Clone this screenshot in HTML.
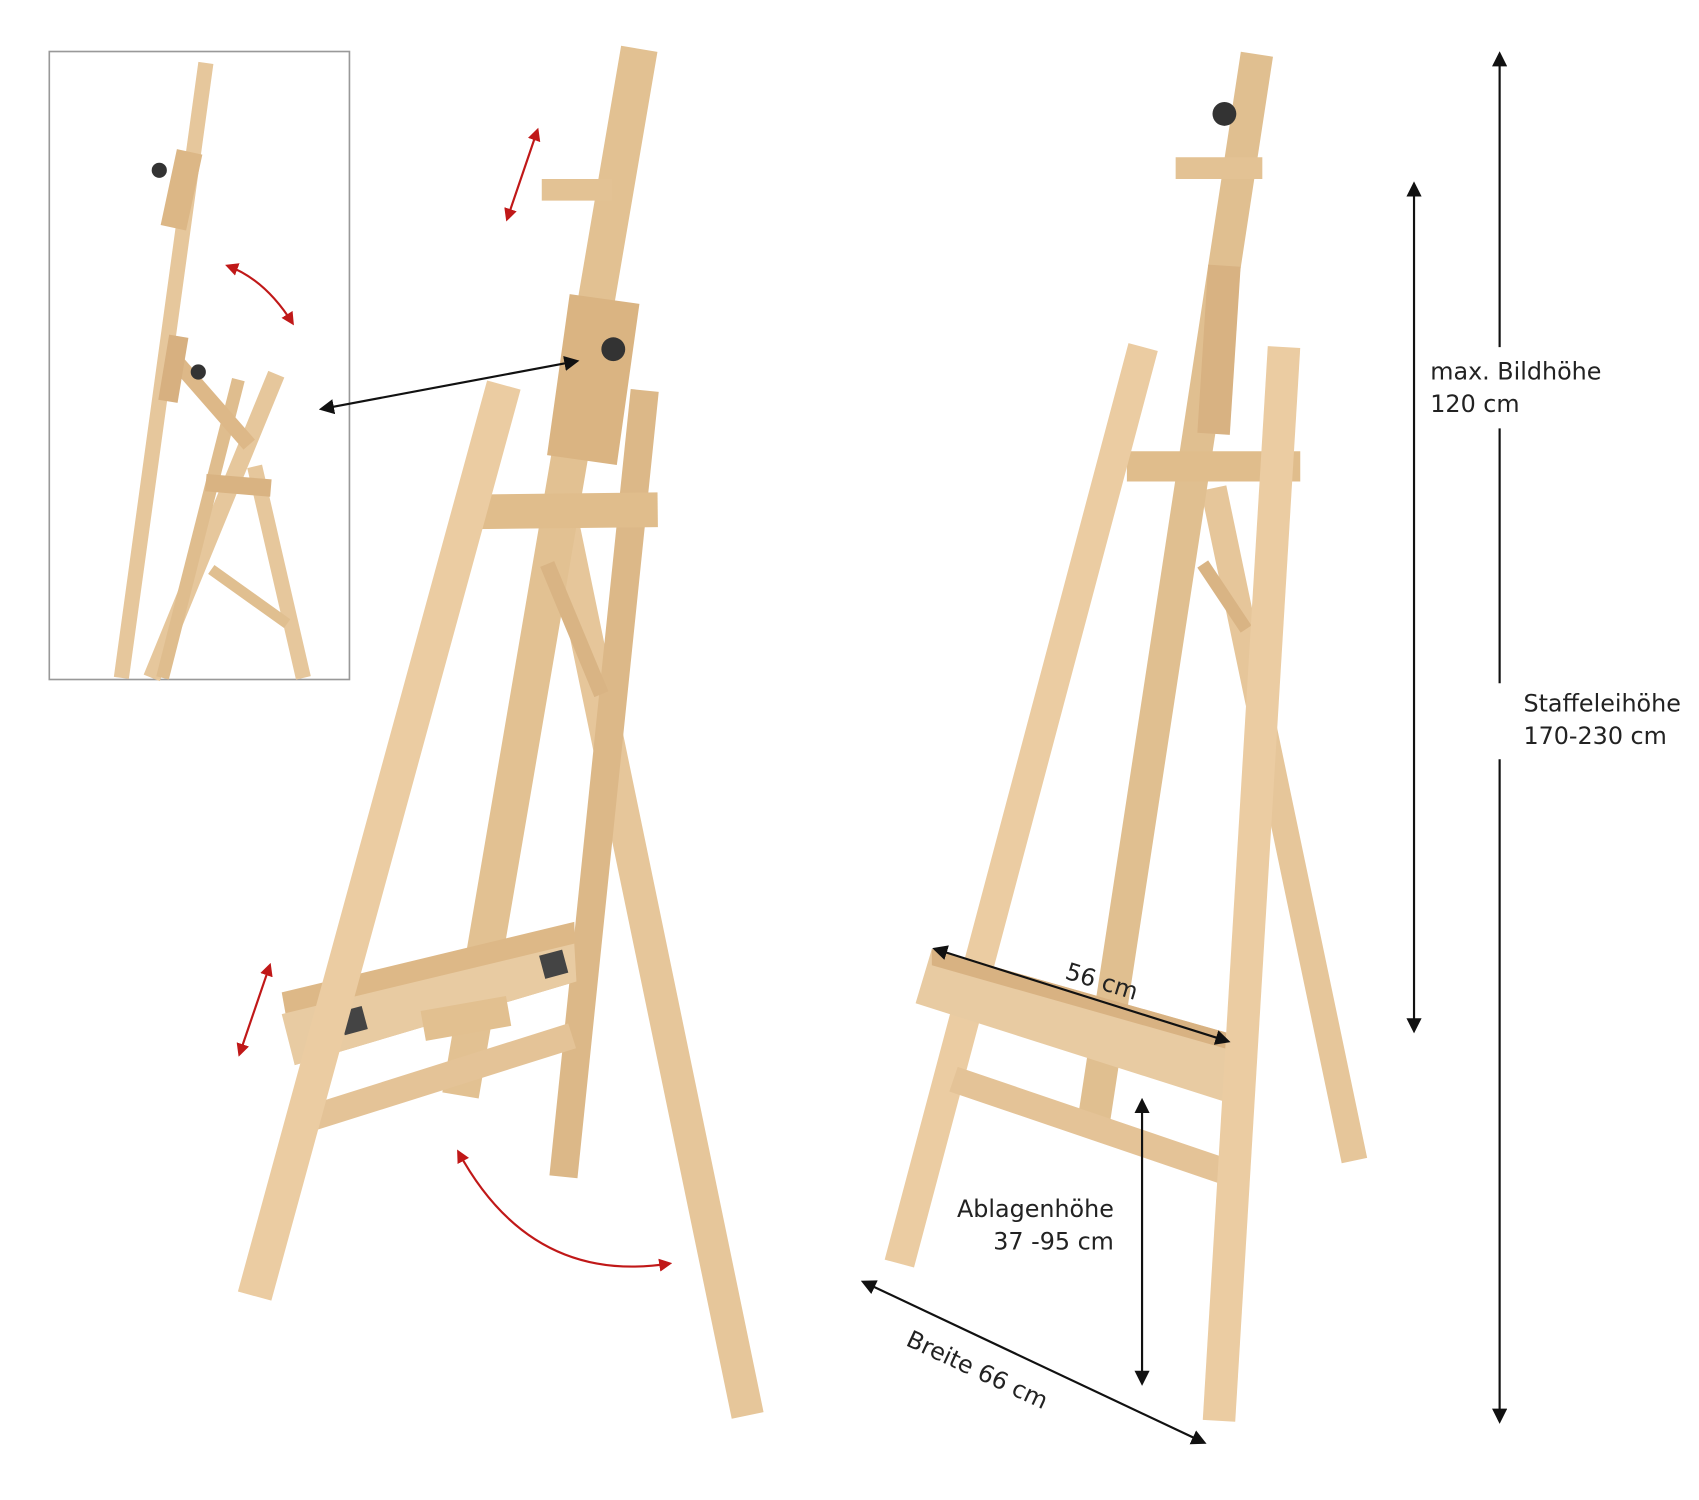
<!DOCTYPE html>
<html><head><meta charset="utf-8"><style>
html,body{margin:0;padding:0;background:#fff;}
svg{display:block;}
text{font-family:"DejaVu Sans","Liberation Sans",sans-serif;font-size:22px;fill:#222;}
</style></head><body>
<svg width="1699" height="1500" viewBox="0 0 1568 1383" preserveAspectRatio="none" xmlns="http://www.w3.org/2000/svg">
<defs>
<marker id="ab" viewBox="0 0 10 10" refX="8" refY="5" markerWidth="7" markerHeight="7" orient="auto-start-reverse"><path d="M0,0L10,5L0,10z" fill="#111"/></marker>
<marker id="ar" viewBox="0 0 10 10" refX="8" refY="5" markerWidth="6" markerHeight="6" orient="auto-start-reverse"><path d="M0,0L10,5L0,10z" fill="#c01818"/></marker>
</defs>
<rect width="1568" height="1383" fill="#fff"/>

<!-- inset -->
<rect x="45.5" y="47.5" width="277" height="579" fill="#fff" stroke="#999" stroke-width="1.5"/>
<g stroke-linecap="butt">
<line x1="190" y1="58" x2="112" y2="625" stroke="#e6c79c" stroke-width="14"/>
<line x1="175" y1="140" x2="160" y2="210" stroke="#dcb786" stroke-width="24"/>
<line x1="255" y1="345" x2="140" y2="625" stroke="#e6c79c" stroke-width="16"/>
<line x1="220" y1="350" x2="150" y2="625" stroke="#dfbd8e" stroke-width="12"/>
<line x1="160" y1="330" x2="230" y2="410" stroke="#ddb888" stroke-width="14"/>
<line x1="235" y1="430" x2="280" y2="625" stroke="#e6c79c" stroke-width="14"/>
<line x1="190" y1="445" x2="250" y2="450" stroke="#d9b382" stroke-width="16"/>
<line x1="195" y1="525" x2="265" y2="575" stroke="#e0bf90" stroke-width="10"/>
<line x1="165" y1="310" x2="155" y2="370" stroke="#d7b080" stroke-width="18"/>
</g>
<circle cx="147" cy="157" r="7" fill="#333"/><circle cx="183" cy="343" r="7" fill="#333"/>
<path d="M210,245 Q245,258 270,298" fill="none" stroke="#c01818" stroke-width="2" marker-start="url(#ar)" marker-end="url(#ar)"/>

<!-- left easel -->
<g stroke-linecap="butt">
<line x1="520" y1="485" x2="690" y2="1305" stroke="#e6c69a" stroke-width="30"/>
<line x1="595" y1="360" x2="520" y2="1085" stroke="#dcb888" stroke-width="26"/>
<line x1="590" y1="45" x2="425" y2="1010" stroke="#e2c192" stroke-width="34"/>
<rect x="515" y="275" width="65" height="150" fill="#dab482" transform="rotate(8 548 350)"/>
<line x1="500" y1="175" x2="565" y2="175" stroke="#e3c294" stroke-width="20"/>
<line x1="430" y1="472" x2="607" y2="470" stroke="#e0bd8c" stroke-width="32"/>
<line x1="505" y1="520" x2="555" y2="640" stroke="#d9b484" stroke-width="14"/>
<polygon points="260,915 530,850 532,905 272,982" fill="#ddb887"/>
<polygon points="260,935 530,870 532,905 272,982" fill="#e8cba2"/>
<rect x="315" y="930" width="22" height="22" fill="#444" transform="rotate(-15 326 941)"/>
<rect x="500" y="878" width="22" height="22" fill="#444" transform="rotate(-15 511 889)"/>
<line x1="290" y1="1030" x2="528" y2="955" stroke="#e4c397" stroke-width="24"/>
<rect x="390" y="925" width="80" height="28" fill="#e2c090" transform="rotate(-10 430 939)"/>
<line x1="465" y1="355" x2="235" y2="1195" stroke="#ebcca2" stroke-width="32"/>
</g>
<circle cx="566" cy="322" r="11" fill="#333"/>
<line x1="297" y1="377" x2="532" y2="333" stroke="#111" stroke-width="2" marker-start="url(#ab)" marker-end="url(#ab)"/>
<line x1="496" y1="120" x2="468" y2="202" stroke="#c01818" stroke-width="2" marker-start="url(#ar)" marker-end="url(#ar)"/>
<line x1="249" y1="890" x2="221" y2="972" stroke="#c01818" stroke-width="2" marker-start="url(#ar)" marker-end="url(#ar)"/>
<path d="M423,1062 Q490,1185 618,1165" fill="none" stroke="#c01818" stroke-width="2" marker-start="url(#ar)" marker-end="url(#ar)"/>

<!-- right easel -->
<g stroke-linecap="butt">
<line x1="1120" y1="450" x2="1250" y2="1070" stroke="#e6c69a" stroke-width="24"/>
<line x1="1160" y1="50" x2="1010" y2="1030" stroke="#e0bf90" stroke-width="30"/>
<line x1="1130" y1="245" x2="1120" y2="400" stroke="#d8b282" stroke-width="30"/>
<line x1="1085" y1="155" x2="1165" y2="155" stroke="#e3c294" stroke-width="20"/>
<line x1="1040" y1="430" x2="1200" y2="430" stroke="#e0bd8c" stroke-width="28"/>
<line x1="1110" y1="520" x2="1150" y2="580" stroke="#d9b484" stroke-width="12"/>
<line x1="1055" y1="320" x2="830" y2="1165" stroke="#ebcca2" stroke-width="28"/>
<line x1="880" y1="995" x2="1130" y2="1080" stroke="#e4c397" stroke-width="24"/>
<polygon points="860,875 1160,960 1150,1022 845,925" fill="#e8cba2"/>
<polygon points="860,875 1160,960 1160,975 860,890" fill="#d8b282"/>
<line x1="1185" y1="320" x2="1125" y2="1310" stroke="#ebcca2" stroke-width="30"/>
</g>
<circle cx="1130" cy="105" r="11" fill="#333"/>

<!-- dimensions -->
<line x1="1384" y1="50" x2="1384" y2="320" stroke="#111" stroke-width="2" marker-start="url(#ab)"/>
<line x1="1384" y1="395" x2="1384" y2="630" stroke="#111" stroke-width="2"/>
<line x1="1384" y1="700" x2="1384" y2="1310" stroke="#111" stroke-width="2" marker-end="url(#ab)"/>
<line x1="1305" y1="170" x2="1305" y2="950" stroke="#111" stroke-width="2" marker-start="url(#ab)" marker-end="url(#ab)"/>
<rect x="1312" y="325" width="200" height="62" fill="#fff"/>
<text x="1320" y="350">max. Bildhöhe</text>
<text x="1320" y="380">120 cm</text>
<rect x="1400" y="632" width="168" height="62" fill="#fff"/>
<text x="1406" y="656">Staffeleihöhe</text>
<text x="1406" y="686">170-230 cm</text>
<line x1="1054" y1="1015" x2="1054" y2="1275" stroke="#111" stroke-width="2" marker-start="url(#ab)" marker-end="url(#ab)"/>
<text x="1028" y="1122" text-anchor="end">Ablagenhöhe</text>
<text x="1028" y="1152" text-anchor="end">37 -95 cm</text>
<line x1="863" y1="875" x2="1133" y2="960" stroke="#111" stroke-width="2" marker-start="url(#ab)" marker-end="url(#ab)"/>
<text x="982" y="902" transform="rotate(17 982 902)">56 cm</text>
<line x1="797" y1="1182" x2="1111" y2="1330" stroke="#111" stroke-width="2" marker-start="url(#ab)" marker-end="url(#ab)"/>
<text x="835" y="1240" transform="rotate(25 835 1240)">Breite 66 cm</text>
</svg>
</body></html>
